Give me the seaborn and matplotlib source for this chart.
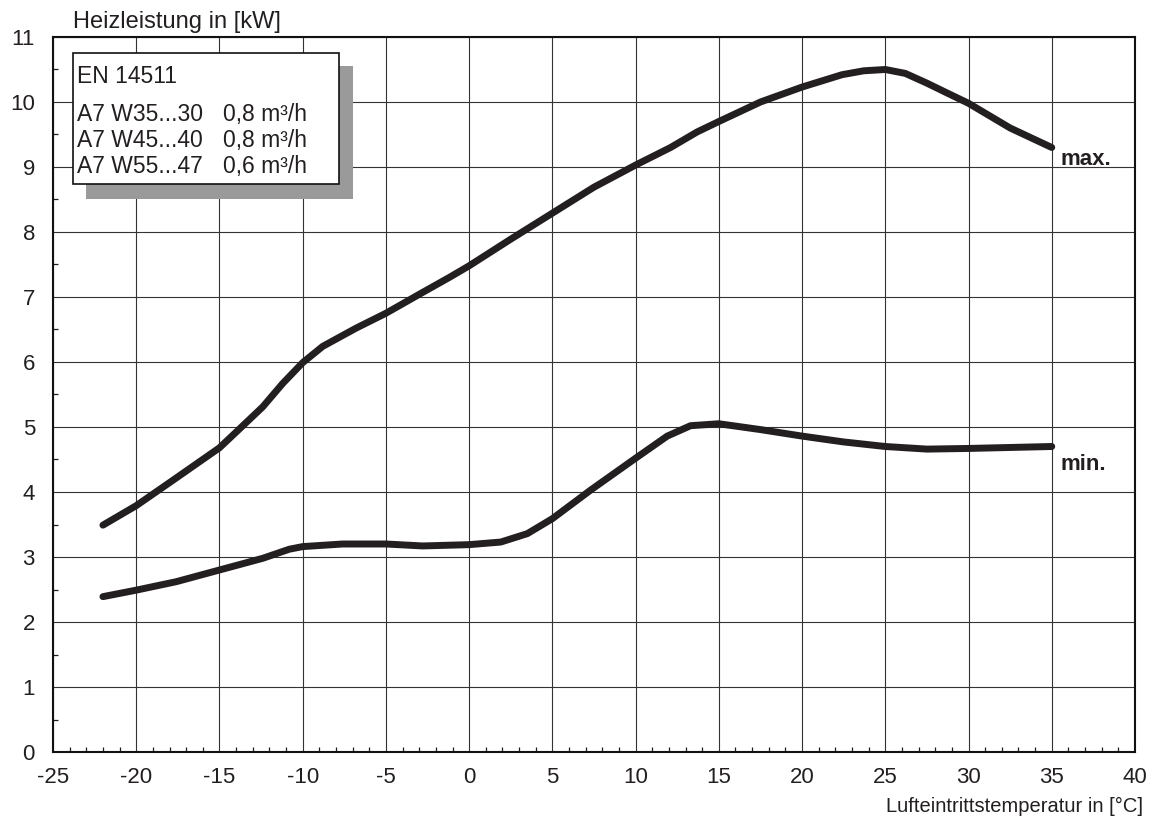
import pandas as pd
import matplotlib
matplotlib.use('Agg')
import matplotlib.pyplot as plt
import seaborn as sns
from matplotlib.patches import Rectangle
from matplotlib.ticker import MultipleLocator

# values
temp_max = [-22, -20, -17.8, -15, -13.8, -12.4, -11.2, -10, -8.8, -6.8, -5,
            -2.8, -1.2, 0, 2.5, 5, 7.5, 10, 12.1, 13.7, 15, 17.5, 20, 22.4,
            23.7, 25, 26.2, 27.5, 28.7, 30, 32.5, 35]
power_max = [3.49, 3.79, 4.18, 4.68, 4.97, 5.31, 5.67, 5.99, 6.24, 6.52, 6.75,
             7.07, 7.30, 7.48, 7.89, 8.29, 8.69, 9.03, 9.30, 9.54, 9.70, 10.0,
             10.23, 10.42, 10.48, 10.50, 10.44, 10.29, 10.14, 9.98, 9.60, 9.30]

temp_min = [-22, -20, -17.6, -15, -12.4, -10.8, -10, -7.6, -5, -2.8, 0, 1.9,
            3.5, 5, 7.3, 10, 11.9, 13.3, 15, 17.5, 20, 22.5, 25, 27.5, 30, 35]
power_min = [2.39, 2.49, 2.62, 2.80, 2.98, 3.12, 3.16, 3.20, 3.20, 3.17, 3.19,
             3.23, 3.36, 3.59, 4.03, 4.52, 4.86, 5.02, 5.05, 4.96, 4.86, 4.77,
             4.70, 4.66, 4.67, 4.70]

legend_title = 'EN 14511'
legend_rows = ['A7 W35...30', 'A7 W45...40', 'A7 W55...47']
legend_flow = ['0,8 m³/h', '0,8 m³/h', '0,6 m³/h']

sns.set_theme(style='white')
plt.rcParams['font.family'] = ['Liberation Sans', 'DejaVu Sans']
plt.rcParams['axes.unicode_minus'] = False

W, H = 1153, 822
fig = plt.figure(figsize=(W / 100, H / 100), dpi=100)
ax = fig.add_axes([53 / W, 1 - 752 / H, (1135 - 53) / W, (752 - 37) / H])

line_color = '#231f20'
df_max = pd.DataFrame({'t': temp_max, 'p': power_max})
df_min = pd.DataFrame({'t': temp_min, 'p': power_min})
for df in (df_max, df_min):
    sns.lineplot(data=df, x='t', y='p', ax=ax, color=line_color, lw=5,
                 sort=False, solid_capstyle='round', solid_joinstyle='round',
                 zorder=5)

ax.set_xlim(-25, 40)
ax.set_ylim(0, 11)
ax.xaxis.set_major_locator(MultipleLocator(5))
ax.yaxis.set_major_locator(MultipleLocator(1))
ax.xaxis.set_minor_locator(MultipleLocator(1))
ax.yaxis.set_minor_locator(MultipleLocator(0.5))
ax.grid(True, which='major', color='#333333', lw=0.8)
ax.tick_params(which='major', length=0, labelsize=16, colors='#231f20')
ax.tick_params(axis='x', which='major', pad=11)
ax.tick_params(axis='y', which='major', pad=13)
ax.tick_params(which='minor', direction='in', length=3.5, width=0.9,
               color='#231f20', bottom=True, left=True)
for s in ax.spines.values():
    s.set_color('#111111')
    s.set_linewidth(1.5)
ax.set_xlabel('')
ax.set_ylabel('')

# axis titles
fig.text(73 / W, 1 - 28 / H, 'Heizleistung in [kW]', fontsize=17,
         color='#231f20', va='baseline', ha='left')
fig.text(1143 / W, 1 - 812 / H, 'Lufteintrittstemperatur in [°C]',
         fontsize=14.5, color='#231f20', va='baseline', ha='right')

# curve labels
ax.text(35.5, power_max[-1] - 0.02, 'max.', fontsize=16, fontweight='bold',
        color='#231f20', va='top', ha='left')
ax.text(35.5, power_min[-1] - 0.12, 'min.', fontsize=16, fontweight='bold',
        color='#231f20', va='top', ha='left')


def px_rect(x0, y0, x1, y1, **kw):
    return Rectangle((x0 / W, 1 - y1 / H), (x1 - x0) / W, (y1 - y0) / H,
                     transform=fig.transFigure, **kw)


# legend box with drop shadow
fig.patches.append(px_rect(86, 66, 353, 199, facecolor='#9a9a9a',
                           edgecolor='none', zorder=10))
fig.patches.append(px_rect(73, 53, 339, 184, facecolor='white',
                           edgecolor='#111111', lw=1.2, zorder=11))
fig.text(77 / W, 1 - 83 / H, legend_title, fontsize=16.5, color='#231f20',
         va='baseline', zorder=12)
for i, (row, flow) in enumerate(zip(legend_rows, legend_flow)):
    yb = 121 + i * 26
    fig.text(77 / W, 1 - yb / H, row, fontsize=16.5, color='#231f20',
             va='baseline', zorder=12)
    fig.text(223 / W, 1 - yb / H, flow, fontsize=16.5, color='#231f20',
             va='baseline', zorder=12)

fig.savefig('out.png', dpi=100)
